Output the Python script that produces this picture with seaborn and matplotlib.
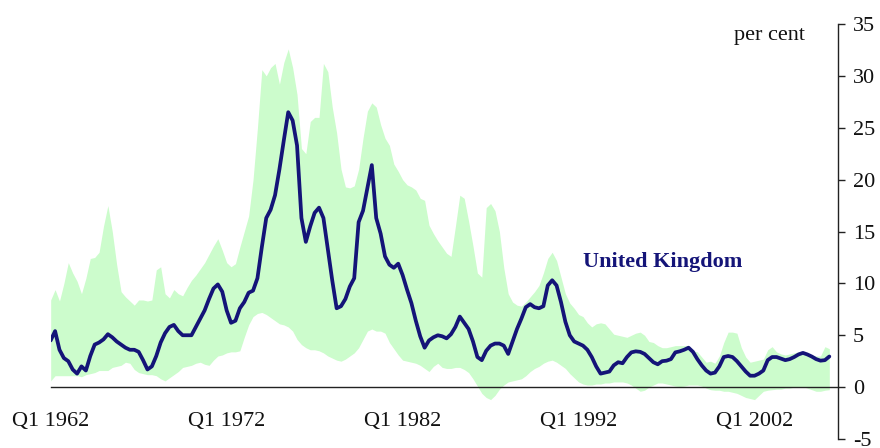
import matplotlib

matplotlib.use("Agg")
import matplotlib.pyplot as plt
import numpy as np
import pandas as pd
import seaborn as sns


START_QUARTER = "1962Q1"

# UK inflation, per cent, quarterly from Q1 1962
uk_inflation = [
    4.5, 5.4, 3.6, 2.8, 2.5, 1.7, 1.3, 2.0, 1.6, 3.0,
    4.1, 4.3, 4.6, 5.1, 4.8, 4.4, 4.1, 3.8, 3.6, 3.6,
    3.4, 2.6, 1.7, 2.0, 3.0, 4.3, 5.2, 5.8, 6.0, 5.4,
    5.0, 5.0, 5.0, 5.8, 6.6, 7.4, 8.5, 9.5, 9.9, 9.2,
    7.4, 6.2, 6.4, 7.6, 8.2, 9.1, 9.3, 10.5, 13.5, 16.3,
    17.1, 18.5, 21.0, 23.8, 26.5, 25.7, 23.3, 16.3, 14.0, 15.5,
    16.8, 17.3, 16.3, 13.3, 10.3, 7.6, 7.8, 8.5, 9.7, 10.5,
    15.9, 17.0, 19.2, 21.4, 16.3, 14.8, 12.6, 11.8, 11.5, 11.9,
    10.8, 9.4, 8.1, 6.4, 4.9, 3.8, 4.5, 4.8, 5.0, 4.9,
    4.7, 5.1, 5.8, 6.8, 6.2, 5.6, 4.4, 2.9, 2.6, 3.5,
    4.0, 4.2, 4.2, 4.0, 3.2, 4.4, 5.6, 6.6, 7.7, 8.0,
    7.7, 7.6, 7.8, 9.8, 10.3, 9.8, 8.2, 6.3, 5.0, 4.4,
    4.2, 4.0, 3.6, 2.9, 2.0, 1.3, 1.4, 1.5, 2.1, 2.4,
    2.3, 2.9, 3.35, 3.45, 3.4, 3.2, 2.8, 2.4, 2.2, 2.5,
    2.55, 2.7, 3.35, 3.45, 3.6, 3.8, 3.4, 2.7, 2.1, 1.6,
    1.3, 1.4, 2.0, 2.9, 3.0, 2.9, 2.5, 2.0, 1.5, 1.1,
    1.1, 1.3, 1.6, 2.6, 2.9, 2.9, 2.75, 2.6, 2.7, 2.9,
    3.15, 3.3, 3.15, 2.95, 2.7, 2.55, 2.6, 2.95,
]

# top of the shaded range across countries
band_upper = [
    8.4, 9.4, 8.3, 10.0, 12.0, 11.0, 10.2, 9.0, 10.5, 12.4,
    12.5, 13.0, 15.5, 17.5, 15.0, 11.8, 9.2, 8.7, 8.3, 7.9,
    8.4, 8.4, 8.3, 8.4, 11.3, 11.6, 9.0, 8.6, 9.4, 9.0,
    8.8, 9.6, 10.3, 10.8, 11.4, 12.0, 12.8, 13.6, 14.3, 13.2,
    12.0, 11.6, 11.9, 13.5, 15.0, 16.5, 20.0, 25.0, 30.6, 30.0,
    30.8, 31.2, 29.2, 31.3, 32.6, 30.8, 28.2, 23.0, 22.5, 25.6,
    26.0, 26.0, 31.2, 30.4, 27.0, 24.5, 21.0, 19.3, 19.2, 19.4,
    21.0, 24.0, 26.6, 27.4, 27.0, 25.3, 24.0, 23.3, 21.5, 20.8,
    20.0, 19.5, 19.3, 19.0, 18.2, 18.0, 15.6, 14.8, 14.1, 13.5,
    12.9, 12.6, 15.5, 18.5, 18.2, 16.0, 13.6, 11.0, 10.6, 17.3,
    17.7, 17.0, 15.0, 11.5, 9.0, 8.2, 7.9, 7.8, 8.2, 8.7,
    9.2, 9.8, 11.0, 12.4, 13.0, 12.2, 10.6, 9.0, 8.1, 7.6,
    7.0, 6.8, 6.2, 5.8, 6.1, 6.2, 6.1, 5.6, 5.1, 5.0,
    4.9, 4.8, 5.0, 5.2, 5.3, 5.0, 4.4, 4.3, 4.0, 3.8,
    3.8, 3.9, 4.0, 4.0, 4.0, 4.0, 3.5, 3.4, 2.9, 2.4,
    2.5, 2.3, 3.0, 4.3, 5.3, 5.3, 5.2, 3.8, 2.9, 2.4,
    2.5, 2.6, 2.7, 3.6, 3.9, 3.4, 3.2, 3.1, 3.2, 3.3,
    3.4, 3.4, 3.2, 3.1, 3.0, 3.0, 3.9, 3.7,
]

# bottom of the shaded range
band_lower = [
    0.6, 1.1, 1.1, 1.1, 1.1, 1.1, 1.1, 1.0, 1.2, 1.3,
    1.4, 1.6, 1.6, 1.6, 1.9, 2.0, 2.1, 2.4, 2.3, 1.7,
    1.4, 1.3, 1.2, 1.2, 1.1, 0.8, 0.6, 0.9, 1.2, 1.5,
    1.9, 2.0, 2.1, 2.3, 2.4, 2.2, 2.1, 2.6, 3.0, 3.1,
    3.3, 3.4, 3.4, 3.5, 4.8, 6.0, 6.8, 7.1, 7.2, 7.0,
    6.7, 6.4, 6.1, 6.0, 5.8, 5.4, 4.6, 4.1, 3.8, 3.6,
    3.6, 3.5, 3.3, 3.0, 2.8, 2.6, 2.5, 2.7, 3.0, 3.3,
    3.8, 4.6, 5.4, 5.6, 5.4, 5.4, 5.2, 4.3, 3.7, 3.1,
    2.6, 2.5, 2.4, 2.3, 2.1, 1.8, 1.5, 2.0, 2.3, 1.9,
    1.8, 1.8, 1.9, 1.9, 1.7, 1.4, 0.8, 0.1, -0.6, -1.0,
    -1.2, -0.8, -0.2, 0.2, 0.5, 0.6, 0.7, 0.8, 1.1, 1.5,
    1.8, 2.0, 2.3, 2.5, 2.6, 2.4, 2.1, 1.8, 1.3, 0.9,
    0.5, 0.3, 0.2, 0.2, 0.3, 0.3, 0.4, 0.4, 0.5, 0.5,
    0.5, 0.4, 0.2, -0.1, -0.4, -0.3, 0.0, 0.2, 0.4, 0.4,
    0.3, 0.2, 0.1, 0.05, 0.1, 0.2, 0.2, 0.2, 0.1, -0.1,
    -0.25, -0.3, -0.3, -0.4, -0.4, -0.5, -0.6, -0.8, -1.0, -1.1,
    -1.2, -0.8, -0.4, -0.3, -0.25, -0.2, -0.2, -0.1, -0.1, 0.0,
    0.0, 0.05, -0.1, -0.25, -0.4, -0.4, -0.3, -0.25,
]

x_tick_labels = ["Q1 1962", "Q1 1972", "Q1 1982", "Q1 1992", "Q1 2002"]
y_ticks = [-5, 0, 5, 10, 15, 20, 25, 30, 35]

LINE_COLOR = "#141478"
BAND_COLOR = "#ccfccc"
SPINE_COLOR = "#222222"
TEXT_COLOR = "#111111"


def build_frame() -> pd.DataFrame:
    assert len(uk_inflation) == len(band_upper) == len(band_lower)
    periods = pd.period_range(START_QUARTER, periods=len(uk_inflation), freq="Q")
    return pd.DataFrame(
        {
            "period": periods,
            "pos": np.arange(len(periods)),
            "uk": uk_inflation,
            "upper": band_upper,
            "lower": band_lower,
        }
    )


def label_position(df: pd.DataFrame, label: str) -> int:
    quarter, year = label.split()
    target = pd.Period(f"{year}{quarter}", freq="Q")
    return int(df.index[df["period"] == target][0])


def main() -> None:
    df = build_frame()

    sns.set_theme(style="white")
    plt.rcParams["font.family"] = ["Liberation Serif", "DejaVu Serif"]
    plt.rcParams["axes.unicode_minus"] = False

    fig = plt.figure(figsize=(8.8, 4.48), dpi=100)
    ax = fig.add_axes([0.0576, 0.0201, 0.8943, 0.9263])

    ax.fill_between(df["pos"], df["lower"], df["upper"], color=BAND_COLOR,
                    linewidth=0, zorder=1)
    sns.lineplot(data=df, x="pos", y="uk", color=LINE_COLOR, linewidth=2.7,
                 ax=ax, zorder=3)

    ax.set_xlim(0, len(df) + 0.9)
    ax.set_ylim(-5, 35)
    ax.set_xlabel("")
    ax.set_ylabel("")

    # axes: value scale on the right, time axis drawn along zero
    ax.spines["left"].set_visible(False)
    ax.spines["top"].set_visible(False)
    ax.spines["bottom"].set_position(("data", 0))
    for side in ("bottom", "right"):
        ax.spines[side].set_color(SPINE_COLOR)
        ax.spines[side].set_linewidth(1.0)

    ax.yaxis.tick_right()
    ax.set_yticks(y_ticks)
    ax.set_xticks([label_position(df, lab) for lab in x_tick_labels])
    ax.set_xticklabels(x_tick_labels)
    ax.tick_params(axis="y", direction="out", length=5, width=1,
                   color=SPINE_COLOR, pad=6, labelsize=16, labelcolor=TEXT_COLOR)
    ax.tick_params(axis="x", direction="out", length=6, width=1,
                   color=SPINE_COLOR, pad=12, labelsize=16, labelcolor=TEXT_COLOR)

    ax.text(163.3, 33.9, "per cent", ha="center", va="center", fontsize=16,
            color=TEXT_COLOR)
    ax.text(139.2, 11.6, "United Kingdom", ha="center", va="baseline",
            fontsize=16, fontweight="bold", color=LINE_COLOR)

    fig.savefig("out.png", dpi=100)
    plt.close(fig)


if __name__ == "__main__":
    main()
